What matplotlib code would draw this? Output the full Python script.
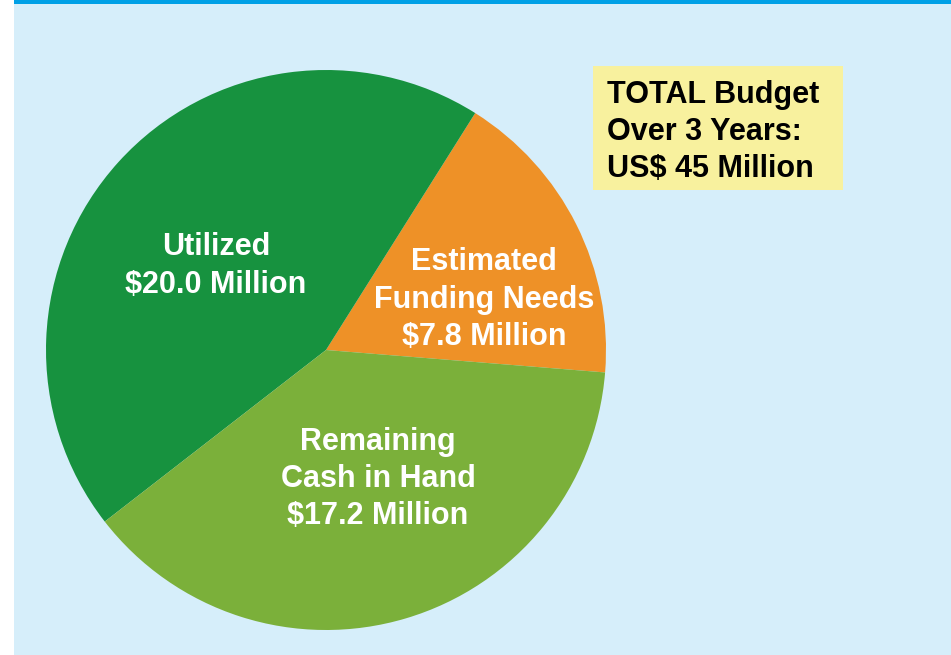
import matplotlib
matplotlib.use("Agg")
import matplotlib.pyplot as plt
from matplotlib.patches import Rectangle

categories = ["Estimated\nFunding Needs", "Utilized", "Remaining\nCash in Hand"]
values = [7.8, 20.0, 17.2]
value_labels = ["$7.8 Million", "$20.0 Million", "$17.2 Million"]
colors = ["#EE9127", "#17923F", "#7BB03A"]
box_text = "TOTAL Budget\nOver 3 Years:\nUS$ 45 Million"

W, H = 951, 655
fig = plt.figure(figsize=(W / 100, H / 100), dpi=100)
fig.patch.set_facecolor("white")

fig.patches.append(Rectangle((14 / W, 0), 1 - 14 / W, 651 / H, transform=fig.transFigure,
                             facecolor="#D6EEFA", edgecolor="none", zorder=-10))
fig.patches.append(Rectangle((14 / W, 651 / H), 1 - 14 / W, 4 / H, transform=fig.transFigure,
                             facecolor="#00A0E6", edgecolor="none", zorder=-10))

cx, cy, r = 326, 350, 280
ax = fig.add_axes([(cx - r) / W, (H - cy - r) / H, 2 * r / W, 2 * r / H])
ax.set_facecolor("none")
ax.pie(values, colors=colors, startangle=-4.6, counterclock=True, radius=1,
       wedgeprops=dict(linewidth=0))
ax.set_xlim(-1, 1)
ax.set_ylim(-1, 1)
ax.set_aspect("equal")
ax.axis("off")

label_pos = [(0.564, 0.18), (-0.393, 0.30), (0.186, -0.461)]
for cat, vl, (x, y) in zip(categories, value_labels, label_pos):
    ax.text(x, y, cat + "\n" + vl, ha="center", va="center", color="white",
            fontsize=22, fontweight="bold", family="Liberation Sans", linespacing=1.32)

fig.patches.append(Rectangle((593 / W, (H - 190) / H), 250 / W, 124 / H, transform=fig.transFigure,
                             facecolor="#F8F19E", edgecolor="none", zorder=1))
fig.text(607 / W, (H - 132) / H, box_text, ha="left", va="center", color="black",
         fontsize=22, fontweight="bold", family="Liberation Sans", linespacing=1.3, zorder=2)

fig.savefig("out.png", dpi=100)
